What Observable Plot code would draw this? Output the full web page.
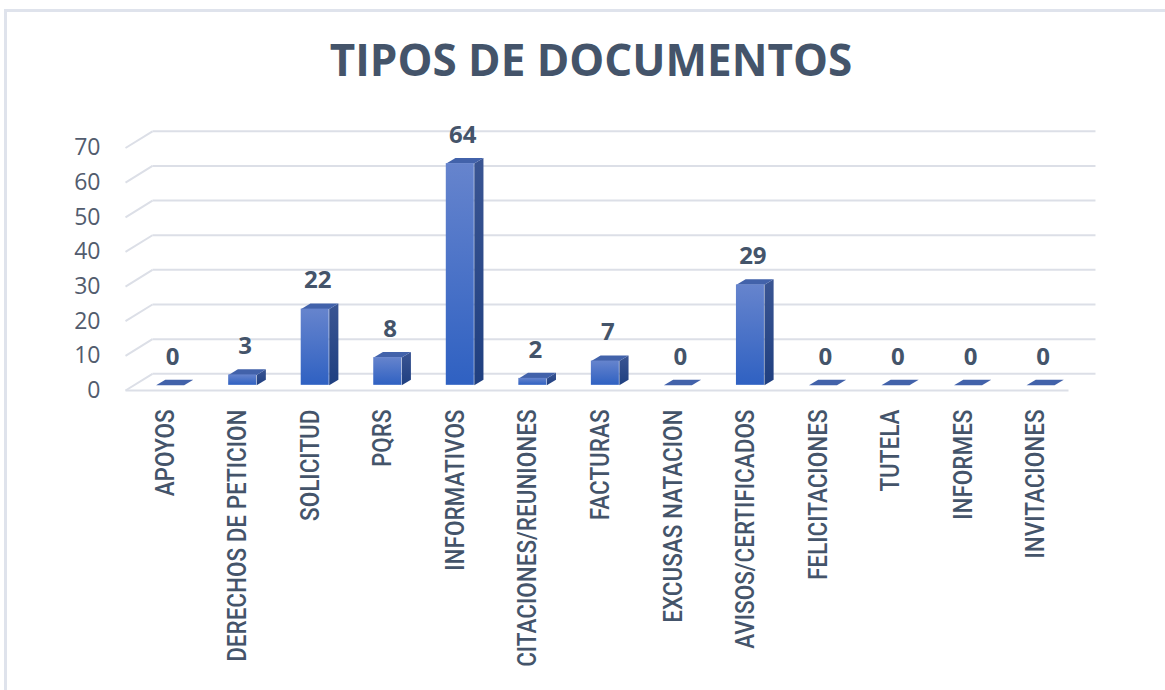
<!DOCTYPE html>
<html>
<head>
<meta charset="utf-8">
<script src="https://cdn.jsdelivr.net/npm/d3@7"></script>
<script src="https://cdn.jsdelivr.net/npm/@observablehq/plot@0.6"></script>
<style>
  html, body { margin: 0; padding: 0; background: #fff; width: 1165px; height: 690px; overflow: hidden; }
  #frame { position: absolute; left: 4px; top: 9px; width: 1200px; height: 700px; border-top: 3px solid #dfe3ec; border-left: 3px solid #dfe3ec; }
  #title { position: absolute; left: 0; top: 37px; width: 1182px; text-align: center; font-family: "Open Sans", sans-serif; font-weight: 700; font-size: 44px; line-height: 1; color: #44546A; }
  #chart { position: absolute; left: 0; top: 100px; }
</style>
</head>
<body>
<div id="frame"></div>
<div id="title">TIPOS DE DOCUMENTOS</div>
<div id="chart"></div>
<script>
const categories = ["APOYOS", "DERECHOS DE PETICION", "SOLICITUD", "PQRS", "INFORMATIVOS", "CITACIONES/REUNIONES", "FACTURAS", "EXCUSAS NATACION", "AVISOS/CERTIFICADOS", "FELICITACIONES", "TUTELA", "INFORMES", "INVITACIONES"];
const values = [0, 3, 22, 8, 64, 2, 7, 0, 29, 0, 0, 0, 0];
const yTicks = [0, 10, 20, 30, 40, 50, 60, 70];

// 3D depth (in data units of the x and y scales)
const WX = 0.372, WY = 4.82;       // wall depth
const F = 0.31, B = 0.65;          // bar front/back as fraction of wall depth
const HW = 0.193;                  // bar half width
const x0 = -0.5, xN = categories.length - 0.5;

const bars = values.map((v, i) => ({
  cat: categories[i], v,
  x1: i - HW + F * WX, x2: i + HW + F * WX,
  y1: F * WY, y2: v + F * WY
}));
const DX = (B - F) * WX, DY = (B - F) * WY;
const topFaces = bars.flatMap((b, i) => [
  {id: i, x: b.x1, y: b.y2}, {id: i, x: b.x2, y: b.y2},
  {id: i, x: b.x2 + DX, y: b.y2 + DY}, {id: i, x: b.x1 + DX, y: b.y2 + DY}
]);
const sideFaces = bars.filter(b => b.v > 0).flatMap((b, i) => [
  {id: i, x: b.x2, y: b.y1}, {id: i, x: b.x2, y: b.y2},
  {id: i, x: b.x2 + DX, y: b.y2 + DY}, {id: i, x: b.x2 + DX, y: b.y1 + DY}
]);

const grid = "#dcdfe7";
const chart = Plot.plot({
  width: 1165, height: 590,
  marginLeft: 125, marginRight: 97, marginTop: 47.5, marginBottom: 300,
  x: {type: "linear", domain: [x0, xN], axis: null},
  y: {type: "linear", domain: [0, 70], axis: null},
  style: {background: "transparent", overflow: "visible"},
  marks: [
    // back wall gridlines
    Plot.link(yTicks, {x1: x0 + WX, x2: xN + WX, y1: d => d + WY, y2: d => d + WY, stroke: grid, strokeWidth: 2}),
    // side wall diagonals
    Plot.link(yTicks, {x1: x0, x2: x0 + WX, y1: d => d, y2: d => d + WY, stroke: grid, strokeWidth: 2}),
    // floor front edge
    Plot.link([0], {x1: x0, x2: xN, y1: 0, y2: 0, stroke: grid, strokeWidth: 2}),
    // bars
    Plot.line(sideFaces, {x: "x", y: "y", z: "id", fill: "url(#gSide)", stroke: "none", curve: "linear-closed"}),
    Plot.line(topFaces, {x: "x", y: "y", z: "id", fill: "#4262aa", stroke: "none", curve: "linear-closed"}),
    Plot.rect(bars.filter(b => b.v > 0), {x1: "x1", x2: "x2", y1: "y1", y2: "y2", fill: "url(#gFront)", inset: 0}),
    // value labels
    Plot.text(bars, {x: (d, i) => i + 0.4 * WX, y: d => d.v + B * WY, text: d => String(d.v), lineAnchor: "bottom", dy: -15,
      fontFamily: "Open Sans, sans-serif", fontWeight: 700, fontSize: 24, fill: "#44546A"}),
    // y tick labels
    Plot.text(yTicks, {x: x0, y: d => d, text: d => String(d), textAnchor: "end", dx: -25,
      fontFamily: "Open Sans, sans-serif", fontSize: 23, fill: "#525c6e"}),
    // category labels
    Plot.text(categories, {x: (d, i) => i, y: 0, text: d => d, rotate: -90, textAnchor: "end", dx: 4, dy: 19,
      fontFamily: "Roboto, sans-serif", fontWeight: 500, fontSize: 25, fill: "#44546A"})
  ]
});

const svg = d3.select(chart);
const defs = svg.insert("defs", ":first-child");
const gf = defs.append("linearGradient").attr("id", "gFront").attr("x1", 0).attr("y1", 0).attr("x2", 0).attr("y2", 1);
gf.append("stop").attr("offset", "0%").attr("stop-color", "#6684cd");
gf.append("stop").attr("offset", "100%").attr("stop-color", "#2f61c2");
const gs = defs.append("linearGradient").attr("id", "gSide").attr("x1", 0).attr("y1", 0).attr("x2", 0).attr("y2", 1);
gs.append("stop").attr("offset", "0%").attr("stop-color", "#3a5593");
gs.append("stop").attr("offset", "100%").attr("stop-color", "#1f3f80");
// condense the category labels along their reading direction (Calibri-like narrow look)
svg.selectAll("text").filter(function() { return categories.includes(this.textContent); })
  .each(function() {
    const t = this.getAttribute("transform") || "";
    this.setAttribute("transform", t + " scale(0.9,1)");
  });

document.getElementById("chart").appendChild(chart);
</script>
</body>
</html>
